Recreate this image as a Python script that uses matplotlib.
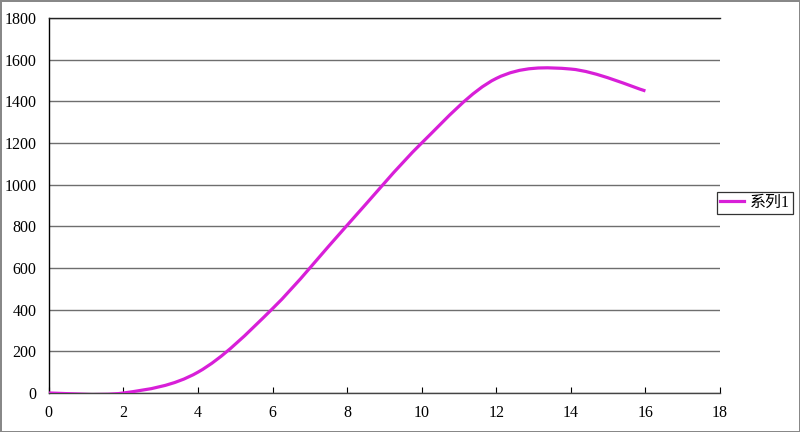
import matplotlib.pyplot as plt
from matplotlib.path import Path
from matplotlib.patches import PathPatch
from matplotlib.lines import Line2D

# values
x_vals = [0, 2, 4, 6, 8, 10, 12, 14, 16]
y_vals = [0, 0, 100, 405, 805, 1200, 1510, 1555, 1450]
series_name = "系列1"
line_color = "#d81fd8"

plt.rcParams['font.family'] = ['Liberation Serif', 'Noto Sans CJK SC']


def smooth_path(xs, ys, t=1 / 6):
    # excel-like smoothed line: cubic bezier through every point
    verts = [(xs[0], ys[0])]
    codes = [Path.MOVETO]
    n = len(xs)
    for i in range(n - 1):
        x0, y0 = (xs[i - 1], ys[i - 1]) if i > 0 else (xs[i], ys[i])
        x3, y3 = (xs[i + 2], ys[i + 2]) if i + 2 < n else (xs[i + 1], ys[i + 1])
        c1 = (xs[i] + (xs[i + 1] - x0) * t, ys[i] + (ys[i + 1] - y0) * t)
        c2 = (xs[i + 1] - (x3 - xs[i]) * t, ys[i + 1] - (y3 - ys[i]) * t)
        verts += [c1, c2, (xs[i + 1], ys[i + 1])]
        codes += [Path.CURVE4] * 3
    return Path(verts, codes)


fig = plt.figure(figsize=(8, 4.32), dpi=100)
fig.patch.set_edgecolor("#888888")
fig.patch.set_linewidth(2)
ax = fig.add_axes([0.061, 0.0903, 0.839, 0.868])

ax.add_patch(PathPatch(smooth_path(x_vals, y_vals), facecolor="none",
                       edgecolor=line_color, lw=2.3, zorder=3))

ax.set_xlim(0, 18)
ax.set_ylim(0, 1800)
ax.set_xticks(range(0, 19, 2))
ax.set_yticks(range(0, 1801, 200))
ax.yaxis.grid(True, color="#6e6e6e", lw=1.0)
ax.set_axisbelow(True)
ax.spines["right"].set_visible(False)
ax.spines["top"].set_color("#222222")
ax.spines["top"].set_linewidth(1.0)
ax.spines["left"].set_linewidth(1.0)
ax.spines["bottom"].set_color("#444444")
ax.spines["bottom"].set_linewidth(1.0)
ax.tick_params(axis="x", direction="in", length=4, labelsize=11.5, pad=9)
ax.tick_params(axis="y", length=0, labelsize=11.5, pad=9)

handle = Line2D([], [], color=line_color, lw=2.3)
leg = ax.legend([handle], [series_name], loc="center left", bbox_to_anchor=(0.995, 0.507),
                fontsize=11.5, frameon=True, fancybox=False, handlelength=1.5,
                borderpad=0.2, handletextpad=0.35, borderaxespad=0)
leg.get_frame().set_edgecolor("black")
leg.get_frame().set_linewidth(0.9)

plt.savefig("out.png", dpi=100)
